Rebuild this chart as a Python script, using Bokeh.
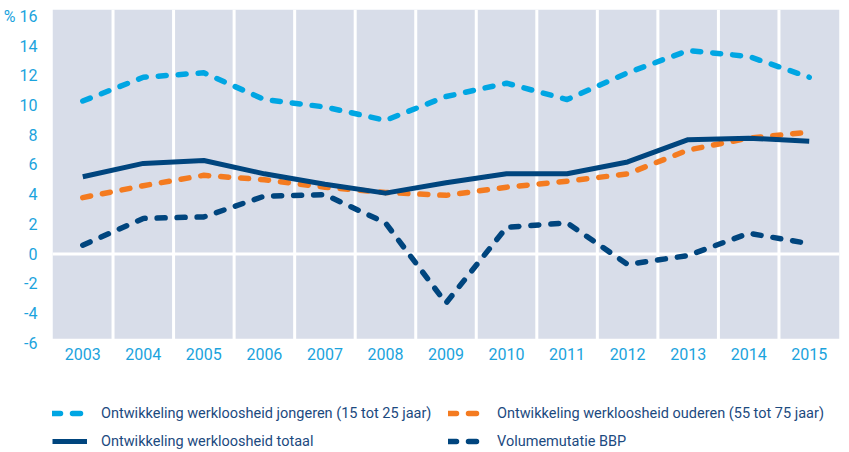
from bokeh.plotting import figure
from bokeh.layouts import column
from bokeh.models import (ColumnDataSource, FactorRange, Range1d, FixedTicker, Span,
                          BoxAnnotation, Legend, LegendItem)
from bokeh.embed import file_html
from bokeh.resources import INLINE

# ---- data ----
years = ["2003", "2004", "2005", "2006", "2007", "2008", "2009",
         "2010", "2011", "2012", "2013", "2014", "2015"]
jongeren = [10.3, 11.9, 12.2, 10.4, 9.9, 9.0, 10.6, 11.5, 10.4, 12.2, 13.7, 13.3, 11.9]
ouderen = [3.8, 4.6, 5.3, 5.0, 4.5, 4.15, 3.95, 4.5, 4.9, 5.4, 7.0, 7.8, 8.2]
totaal = [5.2, 6.1, 6.3, 5.4, 4.7, 4.1, 4.8, 5.4, 5.4, 6.2, 7.7, 7.8, 7.6]
bbp = [0.6, 2.4, 2.5, 3.9, 4.0, 2.1, -3.3, 1.8, 2.1, -0.7, -0.1, 1.4, 0.7]
yticks = [-6, -4, -2, 0, 2, 4, 6, 8, 10, 12, 14, 16]
ytick_labels = {t: str(t) for t in yticks}
ytick_labels[16] = "% 16"
labels = ["Ontwikkeling werkloosheid jongeren (15 tot 25 jaar)",
          "Ontwikkeling werkloosheid ouderen (55 tot 75 jaar)",
          "Ontwikkeling werkloosheid totaal",
          "Volumemutatie BBP"]

# ---- styles ----
FONT = "Roboto"
LIGHT = "#00a6e3"
DARK = "#00457e"
ORANGE = "#f47b20"
BG = "#d8dde9"
TICK = "#1ba3dd"
TEXT = "#1c4a80"
STYLES = {
    "jongeren": dict(line_color=LIGHT, line_width=5.5, line_dash="8 12",
                     line_cap="round", line_join="round"),
    "ouderen": dict(line_color=ORANGE, line_width=5.5, line_dash="8 12",
                    line_cap="round", line_join="round"),
    "totaal": dict(line_color=DARK, line_width=5, line_join="round"),
    "bbp": dict(line_color=DARK, line_width=5.5, line_dash="8 12",
                line_cap="round", line_join="round"),
}

src = ColumnDataSource(dict(year=years, jongeren=jongeren, ouderen=ouderen,
                            totaal=totaal, bbp=bbp))

p = figure(x_range=FactorRange(*years), y_range=Range1d(-6.02, 16.46),
           width=849, height=372, min_border_left=52, min_border_right=10,
           min_border_top=9, min_border_bottom=29,
           output_backend="svg", toolbar_location=None,
           background_fill_color="white", border_fill_color="white",
           outline_line_color=None)

p.xgrid.visible = False
p.ygrid.visible = False

p.add_layout(BoxAnnotation(bottom=-5.7, fill_color=BG, fill_alpha=1.0,
                           line_color=None, level="image"))
for i in range(1, len(years)):
    p.add_layout(Span(location=i, dimension="height", line_color="white",
                      line_width=3, level="underlay"))
p.add_layout(Span(location=0, dimension="width", line_color="white",
                  line_width=3, level="underlay"))

for key in ["jongeren", "ouderen", "totaal", "bbp"]:
    p.line("year", key, source=src, **STYLES[key])

for ax in (p.xaxis, p.yaxis):
    ax.axis_line_color = None
    ax.major_tick_line_color = None
    ax.minor_tick_line_color = None
    ax.major_label_text_font = FONT
    ax.major_label_text_color = TICK
    ax.major_tick_out = 0
    ax.major_tick_in = 0

p.yaxis.ticker = FixedTicker(ticks=yticks)
p.yaxis.major_label_overrides = ytick_labels
p.yaxis.major_label_text_font_size = "16px"
p.yaxis.major_label_standoff = 15
p.xaxis.major_label_text_font_size = "16px"
p.xaxis.major_label_standoff = 4

# ---- legend figure (proxy lines kept outside its visible y range) ----
lf = figure(width=849, height=80, min_border=0, output_backend="svg",
            toolbar_location=None, outline_line_color=None,
            x_axis_location=None, y_axis_location=None,
            x_range=FactorRange(*years), y_range=Range1d(100, 101))
lf.grid.visible = False
proxies = {k: lf.line("year", k, source=src, **STYLES[k]) for k in STYLES}

common = dict(orientation="vertical", glyph_width=35, glyph_height=20,
              label_height=20, label_standoff=14, spacing=8, padding=0, margin=0,
              border_line_color=None, background_fill_alpha=0,
              label_text_font=FONT, label_text_font_size="14.5px",
              label_text_color=TEXT, label_text_baseline="middle")
leg1 = Legend(items=[LegendItem(label=labels[0], renderers=[proxies["jongeren"]]),
                     LegendItem(label=labels[2], renderers=[proxies["totaal"]])],
              location=(0, 1), **common)
leg2 = Legend(items=[LegendItem(label=labels[1], renderers=[proxies["ouderen"]]),
                     LegendItem(label=labels[3], renderers=[proxies["bbp"]])],
              location=(396, 1), **common)
lf.add_layout(leg1)
lf.add_layout(leg2)

layout = column(p, lf, spacing=0)
open("out.html", "w").write(file_html(layout, INLINE))
